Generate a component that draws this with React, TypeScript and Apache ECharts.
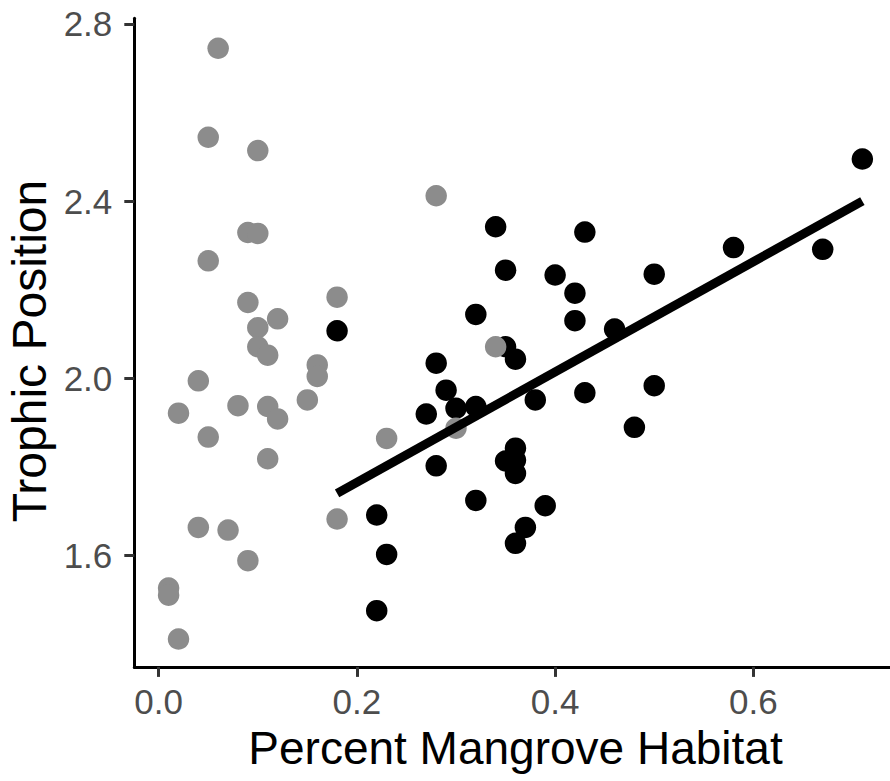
import React, { useEffect, useRef } from "react";
import * as echarts from "echarts";

// Tick values
const xTicks = [0, 0.2, 0.4, 0.6];
const yTicks = [1.6, 2.0, 2.4, 2.8];

// Grey points [percent mangrove, trophic position]
const greyPoints: [number, number][] = [
  [0.06, 2.745], [0.05, 2.544], [0.10, 2.514], [0.09, 2.329], [0.10, 2.327],
  [0.05, 2.265], [0.09, 2.171], [0.12, 2.134], [0.10, 2.114], [0.10, 2.071],
  [0.11, 2.052], [0.04, 1.994], [0.02, 1.921], [0.08, 1.938], [0.11, 1.936],
  [0.12, 1.908], [0.15, 1.951], [0.16, 2.030], [0.16, 2.004], [0.05, 1.867],
  [0.11, 1.818], [0.18, 2.183], [0.28, 2.412], [0.23, 1.864], [0.18, 1.682],
  [0.04, 1.663], [0.07, 1.657], [0.09, 1.588], [0.01, 1.526], [0.01, 1.510],
  [0.02, 1.411], [0.34, 2.071], [0.30, 1.887],
];

// Black points
const blackPoints: [number, number][] = [
  [0.18, 2.107], [0.22, 1.691], [0.23, 1.602], [0.22, 1.475], [0.27, 1.919],
  [0.28, 1.802], [0.29, 1.973], [0.30, 1.932], [0.32, 1.936], [0.38, 1.951],
  [0.43, 1.967], [0.50, 1.983], [0.48, 1.889], [0.36, 1.842], [0.35, 1.813],
  [0.36, 1.815], [0.36, 1.785], [0.32, 1.724], [0.39, 1.712], [0.37, 1.663],
  [0.36, 1.627], [0.34, 2.342], [0.43, 2.330], [0.35, 2.244], [0.40, 2.233],
  [0.42, 2.192], [0.42, 2.130], [0.32, 2.144], [0.35, 2.071], [0.36, 2.043],
  [0.28, 2.034], [0.71, 2.495], [0.58, 2.295], [0.67, 2.291], [0.50, 2.235],
  [0.46, 2.111],
];

// Fitted line endpoints
const fitLine: [number, number][] = [
  [0.18, 1.74],
  [0.71, 2.4],
];

const FONT = '"Liberation Sans", Arial, sans-serif';

export default function App() {
  const ref = useRef<HTMLDivElement>(null);

  useEffect(() => {
    if (!ref.current) return;
    const chart = echarts.init(ref.current, undefined, { renderer: "svg" });
    const fmt = (v: number) => v.toFixed(1);
    chart.setOption({
      animation: false,
      backgroundColor: "#ffffff",
      grid: { left: 134.3, right: 0, top: 18.2, bottom: 114.1, containLabel: false },
      xAxis: {
        type: "value",
        min: -0.0246,
        max: 0.7379,
        axisLine: { show: true, onZero: false, lineStyle: { color: "#000", width: 3 } },
        axisTick: { show: true, length: 10, customValues: xTicks, lineStyle: { color: "#333", width: 3 } },
        axisLabel: {
          customValues: xTicks,
          formatter: fmt,
          color: "#4d4d4d",
          fontSize: 35,
          fontFamily: FONT,
          margin: 17,
        },
        splitLine: { show: false },
      },
      yAxis: {
        type: "value",
        min: 1.348,
        max: 2.813,
        axisLine: { show: true, onZero: false, lineStyle: { color: "#000", width: 3 } },
        axisTick: { show: true, length: 10, customValues: yTicks, lineStyle: { color: "#333", width: 3 } },
        axisLabel: {
          customValues: yTicks,
          formatter: fmt,
          color: "#4d4d4d",
          fontSize: 35,
          fontFamily: FONT,
          margin: 22,
        },
        splitLine: { show: false },
      },
      series: [
        {
          type: "scatter",
          data: blackPoints,
          symbolSize: 21.5,
          itemStyle: { color: "#000000", opacity: 1 },
          z: 2,
          silent: true,
        },
        {
          type: "scatter",
          data: greyPoints,
          symbolSize: 21.5,
          itemStyle: { color: "#8c8c8c", opacity: 1 },
          z: 3,
          silent: true,
        },
        {
          type: "line",
          data: fitLine,
          symbol: "none",
          lineStyle: { color: "#000", width: 9, cap: "butt" },
          z: 4,
          silent: true,
        },
      ],
      graphic: [
        {
          type: "text",
          x: 515.5,
          y: 748,
          style: {
            text: "Percent Mangrove Habitat",
            fill: "#000",
            font: `46px ${FONT}`,
            align: "center",
            verticalAlign: "middle",
            textAlign: "center",
            textVerticalAlign: "middle",
          },
        },
        {
          type: "text",
          x: 29,
          y: 351,
          rotation: Math.PI / 2,
          style: {
            text: "Trophic Position",
            fill: "#000",
            font: `48px ${FONT}`,
            align: "center",
            verticalAlign: "middle",
            textAlign: "center",
            textVerticalAlign: "middle",
          },
        },
      ],
    });
    return () => chart.dispose();
  }, []);

  return (
    <div
      ref={ref}
      style={{ position: "absolute", left: 0, top: 0, width: 890, height: 781 }}
    />
  );
}
